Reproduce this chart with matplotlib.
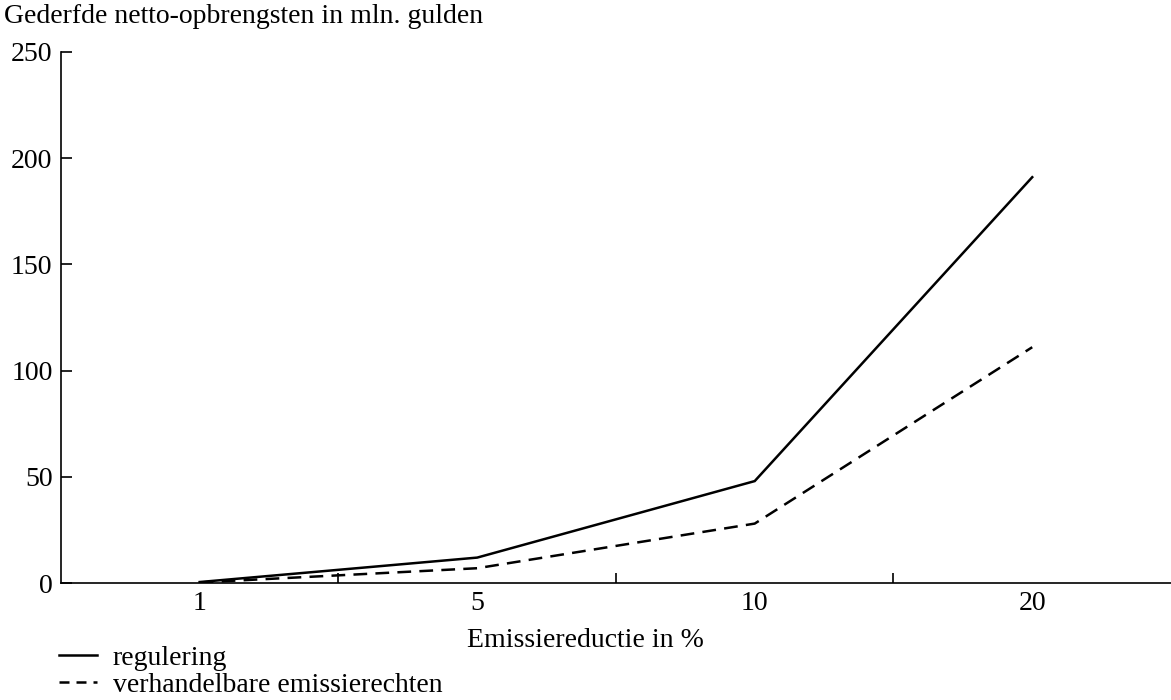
import matplotlib
matplotlib.use("Agg")
import matplotlib.pyplot as plt
from matplotlib.lines import Line2D

plt.rcParams["font.family"] = ["Liberation Serif", "DejaVu Serif"]

categories = ["1", "5", "10", "20"]
regulering = [0.5, 12, 48, 191]
verhandelbaar = [0.3, 7, 28, 111]
y_ticks = [0, 50, 100, 150, 200, 250]

fig = plt.figure(figsize=(11.71, 7.0), dpi=100)
ax = fig.add_axes([0.052, 0.167, 0.948, 0.759])

x = list(range(len(categories)))
ax.plot(x, regulering, color="black", lw=1.8, solid_joinstyle="miter")
ax.plot(x, verhandelbaar, color="black", lw=1.8, dashes=(5.5, 3.3))

ax.set_xlim(-0.5, len(categories) - 0.5)
ax.set_ylim(0, 250)

# category labels without tick marks, small marks between categories
ax.set_xticks(x)
ax.set_xticklabels(categories)
ax.tick_params(axis="x", which="major", length=0, pad=6, labelsize=20)
ax.set_xticks([i + 0.5 for i in x[:-1]], minor=True)
ax.tick_params(axis="x", which="minor", direction="in", length=7, width=1.2)

ax.set_yticks(y_ticks)
ax.tick_params(axis="y", direction="in", length=8, width=1.2, pad=6, labelsize=20)

for s in ["top", "right"]:
    ax.spines[s].set_visible(False)
for s in ["left", "bottom"]:
    ax.spines[s].set_linewidth(1.2)

fig.text(0.003, 0.976, "Gederfde netto-opbrengsten in mln. gulden", fontsize=20,
         ha="left", va="center")
fig.text(0.5, 0.085, "Emissiereductie in %", fontsize=20, ha="center", va="center")

handles = [Line2D([], [], color="black", lw=1.8),
           Line2D([], [], color="black", lw=1.8, dashes=(4, 2.8))]
fig.legend(handles, ["regulering", "verhandelbare emissierechten"],
           loc="upper left", bbox_to_anchor=(0.05, 0.078), frameon=False,
           fontsize=20, handlelength=1.4, handletextpad=0.55,
           labelspacing=0.05, borderpad=0, borderaxespad=0)

fig.savefig("out.png", dpi=100)
